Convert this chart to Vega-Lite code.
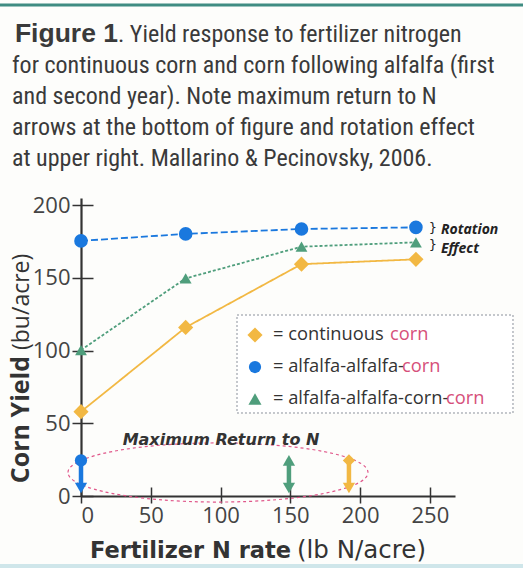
{
  "$schema": "https://vega.github.io/schema/vega-lite/v6.json",
  "width": 374,
  "height": 298,
  "autosize": "none",
  "padding": {"left": 81, "top": 198, "right": 68, "bottom": 72},
  "background": "#fdfdfb",
  "config": {"view": {"stroke": null}},
  "datasets": {
    "yield": [
      {"series": "continuous corn", "n": 0, "yield": 58},
      {"series": "continuous corn", "n": 75, "yield": 116},
      {"series": "continuous corn", "n": 158, "yield": 159.5},
      {"series": "continuous corn", "n": 240, "yield": 162.8},
      {"series": "alfalfa-alfalfa-corn", "n": 0, "yield": 175.5},
      {"series": "alfalfa-alfalfa-corn", "n": 75, "yield": 180.3},
      {"series": "alfalfa-alfalfa-corn", "n": 158, "yield": 183.7},
      {"series": "alfalfa-alfalfa-corn", "n": 240, "yield": 184.8},
      {"series": "alfalfa-alfalfa-corn-corn", "n": 0, "yield": 100.4},
      {"series": "alfalfa-alfalfa-corn-corn", "n": 75, "yield": 149.7},
      {"series": "alfalfa-alfalfa-corn-corn", "n": 158, "yield": 171.5},
      {"series": "alfalfa-alfalfa-corn-corn", "n": 240, "yield": 174.5}
    ],
    "maxReturn": [
      {"series": "continuous corn", "n": 192},
      {"series": "alfalfa-alfalfa-corn", "n": 0},
      {"series": "alfalfa-alfalfa-corn-corn", "n": 149}
    ],
    "one": [{}]
  },
  "layer": [
    {
      "layer": [
        {
          "data": {"name": "one"},
          "mark": {"type": "rule", "color": "#3f8c82", "strokeWidth": 3, "opacity": 1},
          "encoding": {"x": {"datum": -58.04}, "x2": {"datum": 316.74}, "y": {"datum": 337.8}}
        },
        {
          "data": {"name": "one"},
          "mark": {"type": "rule", "color": "#cfe6ea", "strokeWidth": 4},
          "encoding": {"x": {"datum": -58.04}, "x2": {"datum": 316.74}, "y": {"datum": -48.15}}
        },
        {
          "data": {"name": "one"},
          "mark": {"type": "rect", "fill": "#ffffff", "stroke": "#8a909a", "strokeDash": [2, 2], "strokeWidth": 1},
          "encoding": {"x": {"datum": 111.79}, "x2": {"datum": 309.56}, "y": {"datum": 124.51}, "y2": {"datum": 57.1}}
        },
        {
          "data": {"name": "one"},
          "mark": {"type": "point", "filled": false, "stroke": "#e0578a", "strokeWidth": 1.2, "strokeDash": [3, 3], "opacity": 1, "size": 90000,
            "shape": "M -1 0 C -1 -0.1088 -0.5523 -0.197 0 -0.197 C 0.5523 -0.197 1 -0.1088 1 0 C 1 0.1088 0.5523 0.197 0 0.197 C -0.5523 0.197 -1 0.1088 -1 0 Z"},
          "encoding": {"x": {"datum": 98.17}, "y": {"datum": 16.17}}
        },
        {
          "data": {"name": "yield"},
          "mark": {"type": "line", "strokeWidth": 1.8},
          "encoding": {
            "x": {"field": "n", "type": "quantitative", "scale": {"domain": [0, 268], "nice": false},
              "axis": {"values": [0, 50, 100, 150, 200, 250], "title": null, "grid": false, "domainColor": "#333", "domainWidth": 2.2, "tickColor": "#333", "tickWidth": 1.5, "tickSize": 7, "labelFont": "Open Sans", "labelFontSize": 22, "labelColor": "#444", "labelPadding": 2}},
            "y": {"field": "yield", "type": "quantitative", "scale": {"domain": [0, 205], "nice": false},
              "axis": {"values": [0, 50, 100, 150, 200], "title": null, "grid": false, "domainColor": "#333", "domainWidth": 2.2, "tickColor": "#333", "tickWidth": 1.5, "tickSize": 9, "labelFont": "Open Sans", "labelFontSize": 22, "labelColor": "#444", "labelPadding": 2}},
            "color": {"field": "series", "type": "nominal", "scale": {"domain": ["continuous corn", "alfalfa-alfalfa-corn", "alfalfa-alfalfa-corn-corn"], "range": ["#f2b843", "#1a78de", "#4f9e7c"]}, "legend": null},
            "strokeDash": {"field": "series", "type": "nominal", "scale": {"domain": ["continuous corn", "alfalfa-alfalfa-corn", "alfalfa-alfalfa-corn-corn"], "range": [[1, 0], [7, 3], [3, 2]]}, "legend": null}
          }
        },
        {
          "data": {"name": "maxReturn"},
          "mark": {"type": "rule", "strokeWidth": 4.5},
          "encoding": {
            "x": {"field": "n", "type": "quantitative"},
            "y": {"datum": 25},
            "y2": {"datum": 7},
            "color": {"field": "series", "type": "nominal", "legend": null}
          }
        },
        {
          "data": {"name": "maxReturn"},
          "mark": {"type": "point", "shape": "triangle-down", "filled": true, "opacity": 1, "size": 150},
          "encoding": {
            "x": {"field": "n", "type": "quantitative"},
            "y": {"datum": 5.5},
            "color": {"field": "series", "type": "nominal", "legend": null}
          }
        },
        {
          "data": {"name": "maxReturn"},
          "mark": {"type": "point", "filled": true, "opacity": 1, "size": 150},
          "encoding": {
            "x": {"field": "n", "type": "quantitative"},
            "y": {"datum": 24.5},
            "color": {"field": "series", "type": "nominal", "legend": null},
            "shape": {"field": "series", "type": "nominal", "scale": {"domain": ["continuous corn", "alfalfa-alfalfa-corn", "alfalfa-alfalfa-corn-corn"], "range": ["diamond", "circle", "triangle-up"]}, "legend": null}
          }
        },
        {
          "data": {"name": "one"},
          "mark": {"type": "text", "align": "center", "baseline": "alphabetic", "font": "DejaVu Sans", "fontSize": 16, "fontWeight": "bold", "fontStyle": "italic", "color": "#333"},
          "encoding": {"x": {"datum": 100.32}, "y": {"datum": 35.08}, "text": {"value": "Maximum Return to N"}}
        },
        {
          "data": {"name": "one"},
          "mark": {"type": "point", "shape": "diamond", "filled": true, "opacity": 1, "size": 230, "color": "#f2b843"},
          "encoding": {"x": {"datum": 124.68}, "y": {"datum": 110.76}}
        },
        {
          "data": {"name": "one"},
          "mark": {"type": "point", "shape": "circle", "filled": true, "opacity": 1, "size": 150, "color": "#1a78de"},
          "encoding": {"x": {"datum": 124.68}, "y": {"datum": 88.74}}
        },
        {
          "data": {"name": "one"},
          "mark": {"type": "point", "shape": "triangle-up", "filled": true, "opacity": 1, "size": 170, "color": "#4f9e7c"},
          "encoding": {"x": {"datum": 124.68}, "y": {"datum": 66.73}}
        },
        {
          "data": {"name": "one"},
          "mark": {"type": "text", "align": "left", "baseline": "middle", "font": "Open Sans", "fontSize": 18.3, "color": "#333"},
          "encoding": {"x": {"datum": 137.58}, "y": {"datum": 110.76}, "text": {"value": "= continuous"}}
        },
        {
          "data": {"name": "one"},
          "mark": {"type": "text", "align": "left", "baseline": "middle", "font": "Open Sans", "fontSize": 18.3, "color": "#333"},
          "encoding": {"x": {"datum": 137.58}, "y": {"datum": 88.74}, "text": {"value": "= alfalfa-alfalfa-"}}
        },
        {
          "data": {"name": "one"},
          "mark": {"type": "text", "align": "left", "baseline": "middle", "font": "Open Sans", "fontSize": 18.3, "color": "#333"},
          "encoding": {"x": {"datum": 137.58}, "y": {"datum": 66.73}, "text": {"value": "= alfalfa-alfalfa-corn-"}}
        },
        {
          "data": {"name": "one"},
          "mark": {"type": "text", "align": "left", "baseline": "middle", "font": "Open Sans", "fontSize": 18.3, "color": "#d6507a"},
          "encoding": {"x": {"datum": 221.42}, "y": {"datum": 110.76}, "text": {"value": "corn"}}
        },
        {
          "data": {"name": "one"},
          "mark": {"type": "text", "align": "left", "baseline": "middle", "font": "Open Sans", "fontSize": 18.3, "color": "#d6507a"},
          "encoding": {"x": {"datum": 230.03}, "y": {"datum": 88.74}, "text": {"value": "corn"}}
        },
        {
          "data": {"name": "one"},
          "mark": {"type": "text", "align": "left", "baseline": "middle", "font": "Open Sans", "fontSize": 18.3, "color": "#d6507a"},
          "encoding": {"x": {"datum": 261.55}, "y": {"datum": 66.73}, "text": {"value": "corn"}}
        },
        {
          "data": {"name": "one"},
          "mark": {"type": "text", "align": "left", "baseline": "alphabetic", "font": "Open Sans", "fontSize": 14, "fontWeight": "bold", "fontStyle": "italic", "color": "#222"},
          "encoding": {"x": {"datum": 257.97}, "y": {"datum": 179.9}, "text": {"value": "Rotation"}}
        },
        {
          "data": {"name": "one"},
          "mark": {"type": "text", "align": "left", "baseline": "alphabetic", "font": "Open Sans", "fontSize": 14, "fontWeight": "bold", "fontStyle": "italic", "color": "#222"},
          "encoding": {"x": {"datum": 257.97}, "y": {"datum": 167.5}, "text": {"value": "Effect"}}
        },
        {
          "data": {"name": "one"},
          "mark": {"type": "text", "align": "left", "baseline": "middle", "font": "DejaVu Sans", "fontSize": 13, "color": "#222"},
          "encoding": {"x": {"datum": 249.2}, "y": {"datum": 184.5}, "text": {"value": "}"}}
        },
        {
          "data": {"name": "one"},
          "mark": {"type": "text", "align": "left", "baseline": "middle", "font": "DejaVu Sans", "fontSize": 13, "color": "#222"},
          "encoding": {"x": {"datum": 249.2}, "y": {"datum": 173.0}, "text": {"value": "}"}}
        },
        {
          "data": {"name": "one"},
          "mark": {"type": "text", "align": "right", "baseline": "alphabetic", "angle": 270, "font": "Open Sans", "fontSize": 25, "fontWeight": "bold", "color": "#333"},
          "encoding": {"x": {"datum": -37.26}, "y": {"datum": 96.31}, "text": {"value": "Corn Yield"}}
        },
        {
          "data": {"name": "one"},
          "mark": {"type": "text", "align": "left", "baseline": "alphabetic", "angle": 270, "font": "Open Sans", "fontSize": 23, "color": "#333"},
          "encoding": {"x": {"datum": -37.26}, "y": {"datum": 100.44}, "text": {"value": "(bu/acre)"}}
        },
        {
          "data": {"name": "one"},
          "mark": {"type": "text", "align": "right", "baseline": "alphabetic", "font": "DejaVu Sans", "fontSize": 22.5, "fontWeight": "bold", "color": "#333"},
          "encoding": {"x": {"datum": 150.48}, "y": {"datum": -42.65}, "text": {"value": "Fertilizer N rate"}}
        },
        {
          "data": {"name": "one"},
          "mark": {"type": "text", "align": "left", "baseline": "alphabetic", "font": "DejaVu Sans", "fontSize": 24.5, "color": "#333"},
          "encoding": {"x": {"datum": 154.78}, "y": {"datum": -42.65}, "text": {"value": "(lb N/acre)"}}
        },
        {
          "data": {"name": "one"},
          "mark": {"type": "text", "align": "right", "baseline": "alphabetic", "font": "Liberation Sans", "fontSize": 26.5, "fontWeight": "bold", "color": "#3a3a3a"},
          "encoding": {"x": {"datum": 26.51}, "y": {"datum": 312.31}, "text": {"value": "Figure 1"}}
        },
        {
          "data": {"name": "one"},
          "mark": {"type": "text", "align": "left", "baseline": "alphabetic", "font": "Liberation Sans Narrow, Roboto Condensed, Arial Narrow, sans-serif", "fontSize": 24, "color": "#3a3a3a"},
          "encoding": {"x": {"datum": 26.51}, "y": {"datum": 312.31}, "text": {"value": ". Yield response to fertilizer nitrogen"}}
        },
        {
          "data": {"name": "one"},
          "mark": {"type": "text", "align": "left", "baseline": "alphabetic", "lineHeight": 31, "font": "Liberation Sans Narrow, Roboto Condensed, Arial Narrow, sans-serif", "fontSize": 24, "color": "#3a3a3a"},
          "encoding": {"x": {"datum": -49.44}, "y": {"datum": 290.99}, "text": {"value": ["for continuous corn and corn following alfalfa (first", "and second year). Note maximum return to N", "arrows at the bottom of figure and rotation effect", "at upper right. Mallarino & Pecinovsky, 2006."]}}
        }
      ]
    },
    {
      "data": {"name": "yield"},
      "mark": {"type": "point", "filled": true, "opacity": 1},
      "encoding": {
        "x": {"field": "n", "type": "quantitative",
          "axis": {"orient": "bottom", "values": [0, 50, 100, 150, 200, 250], "title": null, "grid": false, "labels": false, "domain": false, "tickColor": "#333", "tickWidth": 1.5, "tickSize": -9}},
        "y": {"field": "yield", "type": "quantitative",
          "axis": {"orient": "left", "values": [0, 50, 100, 150, 200], "title": null, "grid": false, "labels": false, "domain": false, "tickColor": "#333", "tickWidth": 1.5, "tickSize": -12}},
        "color": {"field": "series", "type": "nominal", "legend": null},
        "shape": {"field": "series", "type": "nominal", "legend": null},
        "size": {"field": "series", "type": "nominal", "scale": {"domain": ["continuous corn", "alfalfa-alfalfa-corn", "alfalfa-alfalfa-corn-corn"], "range": [230, 140, 170]}, "legend": null}
      }
    }
  ],
  "resolve": {"axis": {"x": "independent", "y": "independent"}}
}
